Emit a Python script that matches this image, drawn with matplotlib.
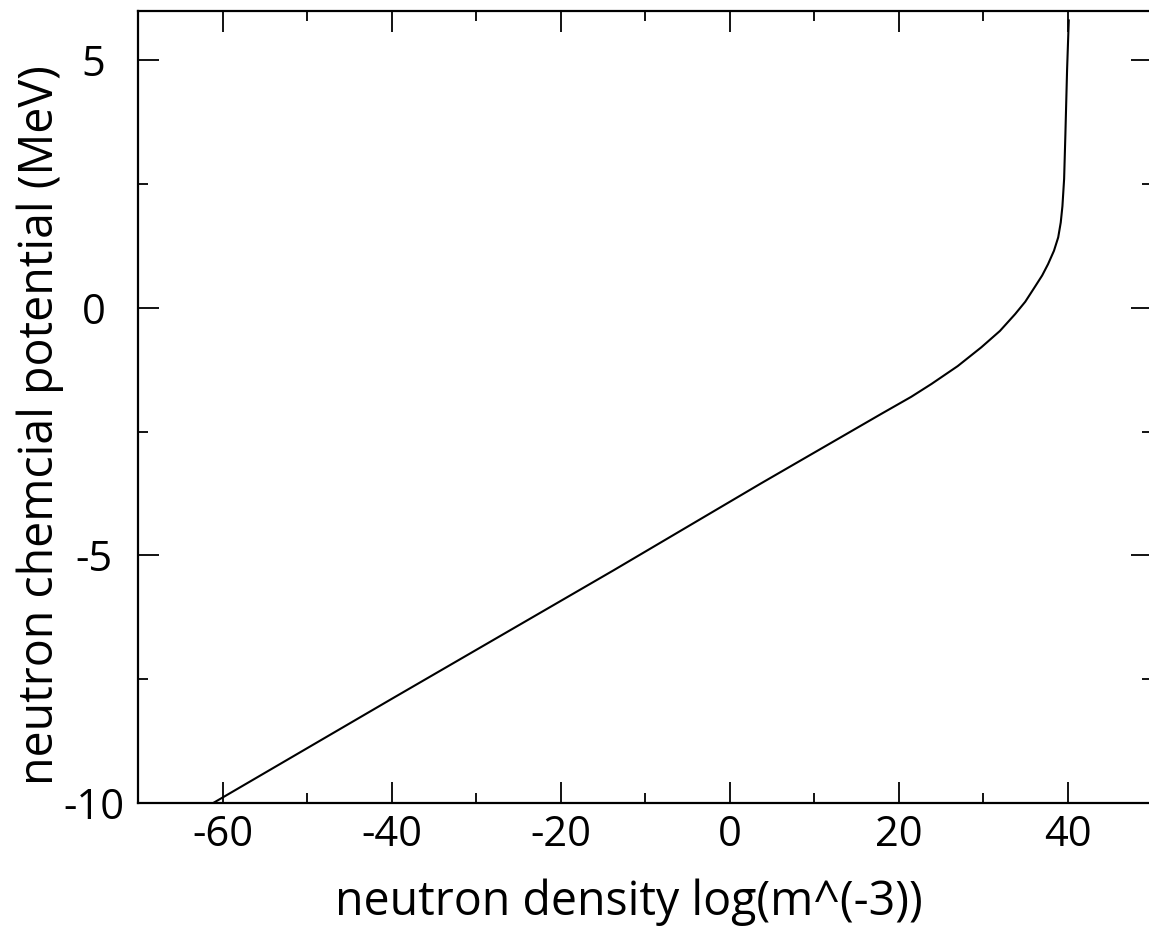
import matplotlib
matplotlib.use("Agg")
import matplotlib.pyplot as plt
from matplotlib.ticker import MultipleLocator

plt.rcParams['font.family'] = ['Open Sans', 'DejaVu Sans']
plt.rcParams['axes.unicode_minus'] = False

# log10 of neutron number density (m^-3) and chemical potential (MeV)
log_density = [-61.1, -40.0, -13.7, 3.7, 18.0, 21.5, 23.9, 27.0, 29.8, 32.0,
               33.8, 35.0, 36.1, 37.0, 37.7, 38.4, 38.9, 39.2, 39.4, 39.6,
               39.75, 39.95, 40.15]
chem_potential = [-10.0, -7.9, -5.3, -3.55, -2.14, -1.80, -1.54, -1.18, -0.80, -0.47,
                  -0.13, 0.12, 0.41, 0.65, 0.88, 1.15, 1.42, 1.72, 2.05, 2.6,
                  3.5, 4.8, 5.8]

W, H = 1149, 931
fig = plt.figure(figsize=(W / 100, H / 100), dpi=100)
# right spine sits just past the edge of the canvas
ax = fig.add_axes([138 / W, 1 - 803 / H, (1152 - 138) / W, (803 - 10.5) / H])

ax.plot(log_density, chem_potential, color='black', lw=1.5)

ax.set_xlim(-70, 50)
ax.set_ylim(-10, 6)
ax.xaxis.set_major_locator(MultipleLocator(20))
ax.xaxis.set_minor_locator(MultipleLocator(10))
ax.yaxis.set_major_locator(MultipleLocator(5))
ax.yaxis.set_minor_locator(MultipleLocator(2.5))

for s in ax.spines.values():
    s.set_linewidth(1.6)

ax.tick_params(which='both', direction='in', top=True, right=True, width=1.3)
ax.tick_params(which='major', length=15)
ax.tick_params(which='minor', length=7.5)
ax.tick_params(axis='x', which='major', labelsize=30, pad=8)
ax.tick_params(axis='y', which='major', labelsize=30, pad=32)
for lab in ax.get_yticklabels():
    lab.set_horizontalalignment('center')

ax_w = (1152 - 138)
ax_h = (803 - 10.5)
ax.set_xlabel('neutron density log(m^(-3))', fontsize=33.5)
ax.xaxis.set_label_coords((629 - 138) / ax_w, (803 - 902) / ax_h)
ax.xaxis.label.set_verticalalignment('center')
ax.set_ylabel('neutron chemcial potential (MeV)', fontsize=33.5)
ax.yaxis.set_label_coords((40 - 138) / ax_w, (803 - 425) / ax_h)
ax.yaxis.label.set_verticalalignment('center')

fig.savefig('out.png', dpi=100)
